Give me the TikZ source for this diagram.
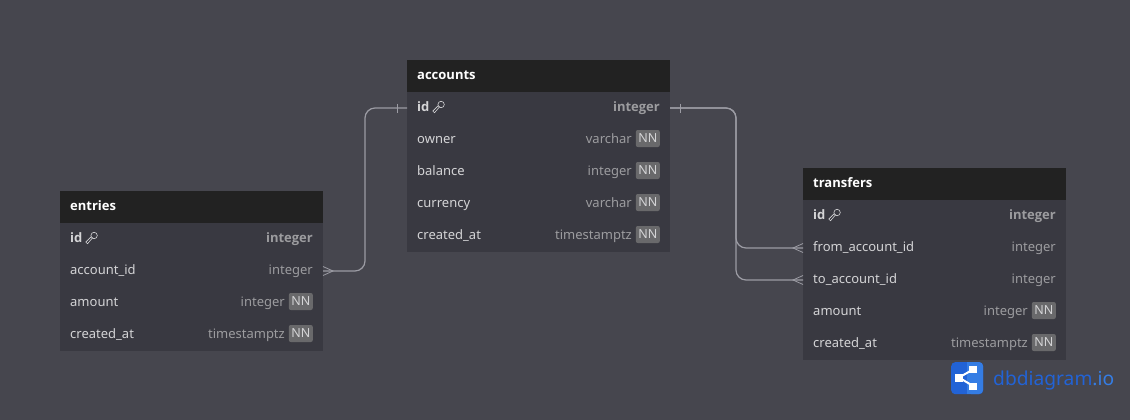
\documentclass[tikz,border=0pt]{standalone}
\usepackage{fontspec}
\setmainfont{Noto Sans}
\newfontfamily\headfont{Open Sans}
\usetikzlibrary{positioning}

\definecolor{canvasbg}{HTML}{46464E}
\definecolor{headbg}{HTML}{222222}
\definecolor{rowbg}{HTML}{393941}
\definecolor{nametext}{HTML}{D4D4D6}
\definecolor{typetext}{HTML}{9C9C9F}
\definecolor{nnbg}{HTML}{69696B}
\definecolor{linkline}{HTML}{9C9CA4}
\definecolor{logodark}{HTML}{2263D6}
\definecolor{logolight}{HTML}{357DE4}

\tikzset{
  head node/.style={fill=headbg,draw=none,anchor=north west,minimum width=263pt,minimum height=32pt,inner sep=0pt,outer sep=0pt},
  row node/.style={fill=rowbg,draw=none,minimum width=263pt,minimum height=32pt,inner sep=0pt,outer sep=0pt,below=0pt of #1},
  head text/.style={text=white,font=\headfont\fontsize{13}{15}\selectfont\bfseries,anchor=base west,inner sep=0pt},
  name text/.style={text=nametext,font=\fontsize{13}{15}\selectfont,anchor=base west,inner sep=0pt},
  type text/.style={text=typetext,font=\fontsize{13}{15}\selectfont,anchor=base east,inner sep=0pt},
  nn node/.style={fill=nnbg,text=nametext,rounded corners=2pt,font=\fontsize{12.5}{14}\selectfont,anchor=east,minimum width=24pt,minimum height=17pt,inner sep=0pt},
  link/.style={draw=linkline,line width=1.2pt,rounded corners=10pt},
  foot/.style={draw=linkline,line width=.8pt},
  keyicon/.pic={
    \draw[nametext,line width=.6pt] (2.5,-2.5) circle (3.2);
    \draw[nametext,line width=.6pt] (1.23,-.53) -- (-4.07,5.77) -- (-5.77,4.07) -- (-.47,-1.23);
  }
}

% table rows: name, previous node, label, type
\newcommand{\keyrow}[4]{
  \node[row node=#2] (#1) {};
  \node[name text,font=\headfont\fontsize{13}{15}\selectfont\bfseries] (#1 name) at ([xshift=10pt,yshift=-3.6pt]#1.west) {#3};
  \node[type text,font=\headfont\fontsize{13}{15}\selectfont\bfseries] (#1 type) at ([xshift=-10pt,yshift=-3.6pt]#1.east) {#4};
  \path (#1 name.base east) ++(9,-4.6) pic {keyicon};
}
\newcommand{\plainrow}[4]{
  \node[row node=#2] (#1) {};
  \node[name text] (#1 name) at ([xshift=10pt,yshift=-3.2pt]#1.west) {#3};
  \node[type text] (#1 type) at ([xshift=-10pt,yshift=-3.2pt]#1.east) {#4};
}
\newcommand{\nnrow}[4]{
  \node[row node=#2] (#1) {};
  \node[name text] (#1 name) at ([xshift=10pt,yshift=-3.2pt]#1.west) {#3};
  \node[nn node] (#1 nn) at ([xshift=-10pt,yshift=1.5pt]#1.east) {NN};
  \node[type text] (#1 type) at ([xshift=-38pt,yshift=-3.2pt]#1.east) {#4};
}

\begin{document}
\begin{tikzpicture}[x=1pt,y=-1pt]
  \useasboundingbox[fill=canvasbg] (0,0) rectangle (1130,420);

  % accounts
  \node[head node] (accounts) at (407,60) {};
  \node[head text] (accounts title) at ([xshift=10pt,yshift=-3.6pt]accounts.west) {accounts};
  \keyrow{acc id}{accounts}{id}{integer}
  \nnrow{acc owner}{acc id}{owner}{varchar}
  \nnrow{acc balance}{acc owner}{balance}{integer}
  \nnrow{acc currency}{acc balance}{currency}{varchar}
  \nnrow{acc created}{acc currency}{created\_at}{timestamptz}

  % entries
  \node[head node] (entries) at (60,191) {};
  \node[head text] (entries title) at ([xshift=10pt,yshift=-3.6pt]entries.west) {entries};
  \keyrow{ent id}{entries}{id}{integer}
  \plainrow{ent account}{ent id}{account\_id}{integer}
  \nnrow{ent amount}{ent account}{amount}{integer}
  \nnrow{ent created}{ent amount}{created\_at}{timestamptz}

  % transfers
  \node[head node] (transfers) at (803,168) {};
  \node[head text] (transfers title) at ([xshift=10pt,yshift=-3.6pt]transfers.west) {transfers};
  \keyrow{tra id}{transfers}{id}{integer}
  \plainrow{tra from}{tra id}{from\_account\_id}{integer}
  \plainrow{tra to}{tra from}{to\_account\_id}{integer}
  \nnrow{tra amount}{tra to}{amount}{integer}
  \nnrow{tra created}{tra amount}{created\_at}{timestamptz}

  % connectors
  \draw[link] (acc id.west) -- ++(-42,0) |- (ent account.east);
  \draw[link] (acc id.east) -- ++(66,0) |- (tra from.west);
  \draw[link] (acc id.east) -- ++(66,0) |- (tra to.west);

  % line ends
  \draw[foot] (acc id.west) ++(-10,-4.5) -- ++(0,9);
  \draw[foot] (acc id.east) ++(10,-4.5) -- ++(0,9);
  \draw[foot] (ent account.east) ++(0,-4.5) -- ++(10,4.5) -- ++(-10,4.5);
  \draw[foot] (tra from.west) ++(0,-4.5) -- ++(-10,4.5) -- ++(10,4.5);
  \draw[foot] (tra to.west) ++(0,-4.5) -- ++(-10,4.5) -- ++(10,4.5);

  % logo
  \node[fill=logodark,rounded corners=4pt,minimum size=32pt,inner sep=0pt,anchor=north west] (logo) at (951,362) {};
  \fill[logolight,rounded corners=4pt] (967,362) -- (983,362) -- (983,394) -- (967,394) [sharp corners] -- cycle;
  \fill[logolight] (967,362) rectangle (972,394);
  \coordinate (share a) at (959,377.5);
  \coordinate (share b) at (973,369.5);
  \coordinate (share c) at (973,386);
  \draw[white,line width=2pt] (share b) -- (share a) -- (share c);
  \fill[white] (share a) ++(-3.7,-4) rectangle ++(7.4,8);
  \fill[white] (share b) ++(-3.7,-3.5) rectangle ++(7.4,7);
  \fill[white] (share c) ++(-3.7,-3.5) rectangle ++(7.4,7);
  \node[anchor=base west,inner sep=0pt,font=\fontsize{19.2}{24}\selectfont,text=logodark] (logo text) at (993,385.5) {dbdiagram\textcolor{logolight}{.io}};
\end{tikzpicture}
\end{document}
